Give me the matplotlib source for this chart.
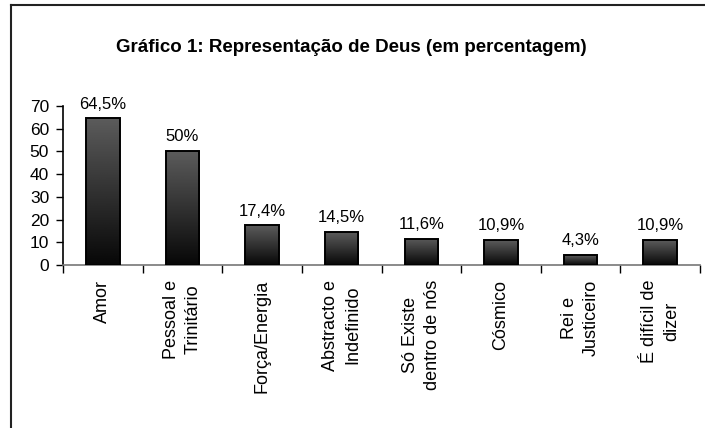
import matplotlib

matplotlib.use("Agg")
import matplotlib.pyplot as plt
import numpy as np
from matplotlib.lines import Line2D

plt.rcParams["font.family"] = ["Liberation Sans", "DejaVu Sans"]

categories = ["Amor", "Pessoal e\nTrinitário", "Força/Energia", "Abstracto e\nIndefinido",
              "Só Existe\ndentro de nós", "Cósmico", "Rei e\nJusticeiro", "É difícil de\ndizer"]
values = [64.5, 50, 17.4, 14.5, 11.6, 10.9, 4.3, 10.9]
value_labels = ["64,5%", "50%", "17,4%", "14,5%", "11,6%", "10,9%", "4,3%", "10,9%"]
yticks = [0, 10, 20, 30, 40, 50, 60, 70]

fig = plt.figure(figsize=(7.05, 4.28), dpi=100)
ax = fig.add_axes([63 / 705, 1 - 265 / 428, 637 / 705, 159 / 428])

x = np.arange(len(categories))
width = 0.42
bars = ax.bar(x, values, width=width, facecolor="none", edgecolor="black",
              linewidth=1.4, zorder=3)

# vertical grey-to-black shading inside each bar
grad = np.linspace(0.03, 0.36, 256).reshape(-1, 1)
for b in bars:
    x0, y0 = b.get_x(), b.get_y()
    im = ax.imshow(grad, cmap="gray", vmin=0, vmax=1, aspect="auto",
                   extent=(x0, x0 + b.get_width(), y0, y0 + b.get_height()),
                   origin="lower", zorder=2)
    im.set_clip_path(b)

for xi, v, lab in zip(x, values, value_labels):
    ax.annotate(lab, (xi, v), xytext=(0, 5), textcoords="offset points",
                ha="center", va="bottom", fontsize=12)

ax.set_xlim(-0.5, len(categories) - 0.5)
ax.set_ylim(0, 70)
ax.set_yticks(yticks)
ax.tick_params(axis="y", labelsize=12.5, length=5, width=1, direction="out", pad=5)

ax.set_xticks(np.arange(len(categories) + 1) - 0.5)
ax.set_xticklabels([])
ax.tick_params(axis="x", which="major", length=6, width=1, direction="out")
ax.set_xticks(x, minor=True)
ax.set_xticklabels(categories, minor=True, rotation=90, fontsize=13)
ax.tick_params(axis="x", which="minor", length=0, pad=10.5)
for t in ax.get_xticklabels(minor=True):
    t.set_multialignment("center")
    t.set_linespacing(1.4)

for side in ("top", "right"):
    ax.spines[side].set_visible(False)
ax.spines["left"].set_linewidth(1.2)
ax.spines["bottom"].set_color("#777777")
ax.spines["bottom"].set_linewidth(1.2)

fig.text(351 / 705, 1 - 48 / 428, "Gráfico 1: Representação de Deus (em percentagem)",
         ha="center", va="center", fontsize=13.5, fontweight="bold")

# scanned page frame
fig.add_artist(Line2D([11 / 705, 11 / 705], [0, 1 - 5 / 428], color="#222222", lw=1.5))
fig.add_artist(Line2D([11 / 705, 1], [1 - 5 / 428, 1 - 5 / 428], color="#222222", lw=1.5))

fig.savefig("out.png", dpi=100)
